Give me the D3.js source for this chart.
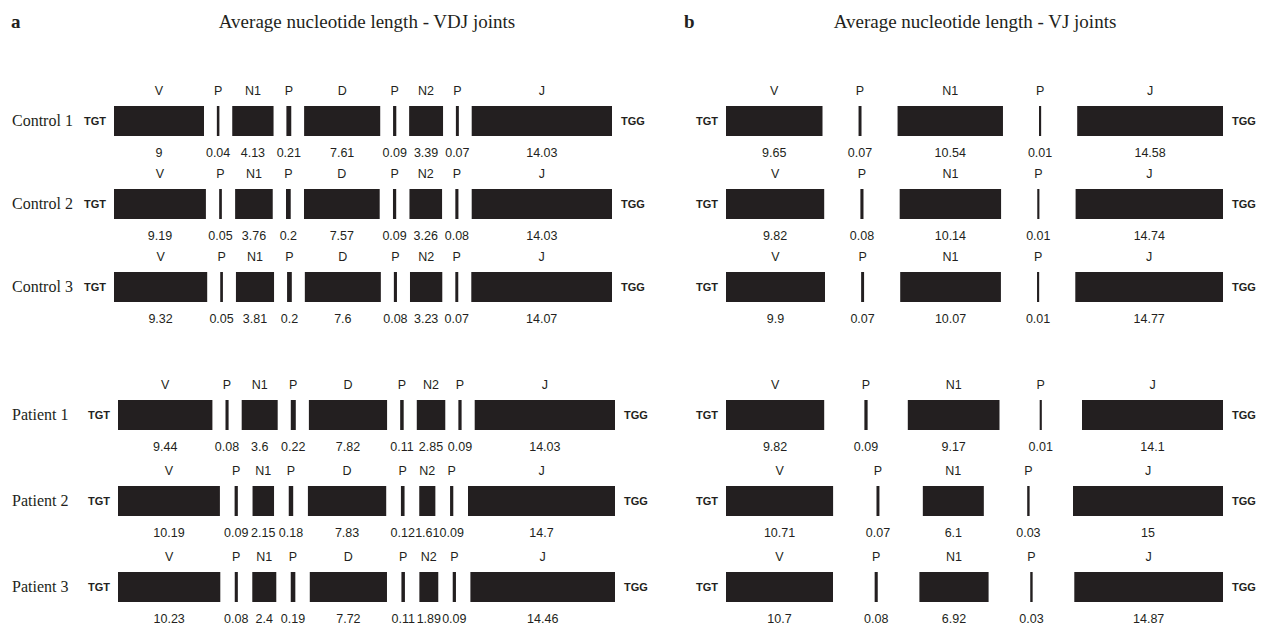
<!DOCTYPE html>
<html>
<head>
<meta charset="utf-8">
<script src="https://cdn.jsdelivr.net/npm/d3@7"></script>
<style>
  body { margin: 0; background: #fff; }
  .serif { font-family: "Liberation Serif", "Times New Roman", serif; }
  .sans { font-family: "Liberation Sans", Arial, sans-serif; }
</style>
</head>
<body>
<script>

// segment names per joint type
const vdjSegments = ["V", "P", "N1", "P", "D", "P", "N2", "P", "J"];
const vjSegments = ["V", "P", "N1", "P", "J"];

const controlRows = ["Control 1", "Control 2", "Control 3"];
const patientRows = ["Patient 1", "Patient 2", "Patient 3"];
const samples = controlRows.concat(patientRows);

// average nucleotide length, one row per sample
const vdjValues = [
    [9, 0.04, 4.13, 0.21, 7.61, 0.09, 3.39, 0.07, 14.03],
    [9.19, 0.05, 3.76, 0.2, 7.57, 0.09, 3.26, 0.08, 14.03],
    [9.32, 0.05, 3.81, 0.2, 7.6, 0.08, 3.23, 0.07, 14.07],
    [9.44, 0.08, 3.6, 0.22, 7.82, 0.11, 2.85, 0.09, 14.03],
    [10.19, 0.09, 2.15, 0.18, 7.83, 0.12, 1.61, 0.09, 14.7],
    [10.23, 0.08, 2.4, 0.19, 7.72, 0.11, 1.89, 0.09, 14.46]
];
const vjValues = [
    [9.65, 0.07, 10.54, 0.01, 14.58],
    [9.82, 0.08, 10.14, 0.01, 14.74],
    [9.9, 0.07, 10.07, 0.01, 14.77],
    [9.82, 0.09, 9.17, 0.01, 14.1],
    [10.71, 0.07, 6.1, 0.03, 15],
    [10.7, 0.08, 6.92, 0.03, 14.87]
];

const width = 1269, height = 630;
const ink = "#231f20";
const barH = 30;

// 10 px per nucleotide, P segments get a minimum visible width
const len = d3.scaleLinear().domain([0, 1]).range([0, 10]);
const pLen = d3.scaleLinear().domain([0, 0.22]).range([2, 5]);

const yControl = d3.scalePoint().domain(controlRows).range([106, 272]);
const yPatient = d3.scalePoint().domain(patientRows).range([400, 572]);
const rowTop = s => controlRows.includes(s) ? yControl(s) : yPatient(s);

const panels = [
    { letter: "a", letterX: 11, title: "Average nucleotide length - VDJ joints", titleX: 367,
      segs: vdjSegments, values: vdjValues, control: [114, 612], patient: [118, 615], rowLabels: true },
    { letter: "b", letterX: 684, title: "Average nucleotide length - VJ joints", titleX: 975,
      segs: vjSegments, values: vjValues, control: [726, 1223], patient: [726, 1223], rowLabels: false }
];

const svg = d3.select("body").append("svg")
    .attr("width", width)
    .attr("height", height);

panels.forEach(function (p) {
    var g = svg.append("g");

    g.append("text").attr("class", "serif")
        .attr("x", p.letterX).attr("y", 28)
        .attr("font-size", 19).attr("font-weight", "bold").attr("fill", ink)
        .text(p.letter);
    g.append("text").attr("class", "serif")
        .attr("x", p.titleX).attr("y", 28)
        .attr("text-anchor", "middle")
        .attr("font-size", 19).attr("fill", ink)
        .text(p.title);

    samples.forEach(function (s, i) {
        var top = rowTop(s);
        var span = controlRows.includes(s) ? p.control : p.patient;
        var vals = p.values[i];

        // widths, then spread the leftover room evenly between segments
        var segs = p.segs.map(function (name, j) {
            return { name: name, v: vals[j], w: name === "P" ? pLen(vals[j]) : len(vals[j]) };
        });
        var gap = (span[1] - span[0] - d3.sum(segs, d => d.w)) / (segs.length - 1);
        var x = span[0];
        segs.forEach(function (d) { d.x = x; x += d.w + gap; });

        var row = g.append("g");

        if (p.rowLabels) {
            row.append("text").attr("class", "serif")
                .attr("x", 12).attr("y", top + 20)
                .attr("font-size", 16).attr("fill", ink)
                .text(s);
        }
        row.append("text").attr("class", "sans")
            .attr("x", span[0] - 8).attr("y", top + 19)
            .attr("text-anchor", "end")
            .attr("font-size", 11).attr("font-weight", "bold").attr("fill", ink)
            .text("TGT");
        row.append("text").attr("class", "sans")
            .attr("x", span[1] + 9).attr("y", top + 19)
            .attr("font-size", 11).attr("font-weight", "bold").attr("fill", ink)
            .text("TGG");

        row.selectAll("rect")
            .data(segs)
            .enter().append("rect")
            .attr("x", d => d.x)
            .attr("y", top)
            .attr("width", d => d.w)
            .attr("height", barH)
            .attr("fill", ink);

        row.selectAll("text.seg")
            .data(segs)
            .enter().append("text")
            .attr("class", "seg sans")
            .attr("x", d => d.x + d.w / 2)
            .attr("y", top - 11)
            .attr("text-anchor", "middle")
            .attr("font-size", 12.5).attr("fill", ink)
            .text(d => d.name);

        row.selectAll("text.val")
            .data(segs)
            .enter().append("text")
            .attr("class", "val sans")
            .attr("x", d => d.x + d.w / 2)
            .attr("y", top + barH + 21)
            .attr("text-anchor", "middle")
            .attr("font-size", 12.5).attr("fill", ink)
            .text(d => String(d.v));
    });
});

</script>
</body>
</html>
